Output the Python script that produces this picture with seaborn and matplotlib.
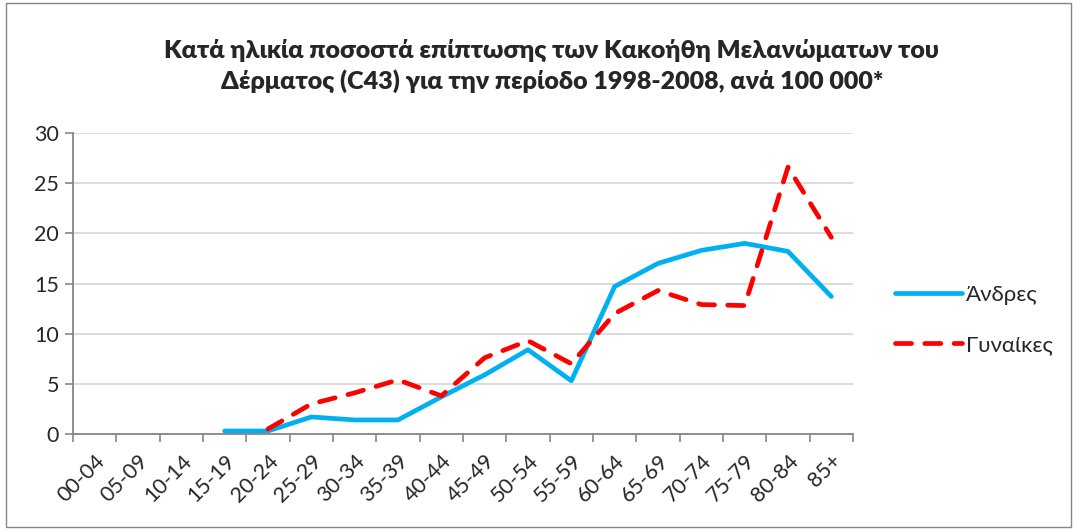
import numpy as np
import pandas as pd
import matplotlib
matplotlib.use("Agg")
import matplotlib.pyplot as plt
import seaborn as sns
from matplotlib.patches import Rectangle
from matplotlib.lines import Line2D

categories = ["00-04", "05-09", "10-14", "15-19", "20-24", "25-29", "30-34", "35-39",
              "40-44", "45-49", "50-54", "55-59", "60-64", "65-69", "70-74", "75-79",
              "80-84", "85+"]
men = [np.nan, np.nan, np.nan, 0.3, 0.3, 1.7, 1.4, 1.4, 3.7, 5.9, 8.4, 5.3,
       14.7, 17.0, 18.3, 19.0, 18.2, 13.7]
women = [np.nan, np.nan, np.nan, np.nan, 0.5, 3.0, 4.1, 5.4, 3.8, 7.6, 9.3, 7.0,
         12.0, 14.3, 12.9, 12.8, 26.6, 19.6]
series_names = ["Άνδρες", "Γυναίκες"]
title = ("Κατά ηλικία ποσοστά επίπτωσης των Κακοήθη Μελανώματων του\n"
         "Δέρματος (C43) για την περίοδο 1998-2008, ανά 100 000*")

sns.set_theme(style="white")
plt.rcParams['font.family'] = ['Lato', 'DejaVu Sans']

pos = np.arange(len(categories))
df = pd.DataFrame({
    "pos": np.concatenate([pos, pos]),
    "value": men + women,
    "series": [series_names[0]] * len(categories) + [series_names[1]] * len(categories),
}).dropna()

fig = plt.figure(figsize=(10.77, 5.29), dpi=100)
ax = fig.add_axes([73 / 1077, 1 - 434 / 529, (853 - 73) / 1077, (434 - 133) / 529])

palette = {series_names[0]: "#00B0F0", series_names[1]: "#FF0000"}
dash = (3.4, 2.8)
sns.lineplot(data=df, x="pos", y="value", hue="series", style="series",
             palette=palette, dashes={series_names[0]: "", series_names[1]: dash},
             linewidth=3.4, ax=ax, legend=False, sort=True)
for ln in ax.lines:
    ln.set_dash_capstyle("round")
    ln.set_solid_capstyle("round")

ax.set_xlim(-0.5, len(categories) - 0.5)
ax.set_ylim(0, 30)
ax.set_yticks(np.arange(0, 31, 5))
ax.set_xticks(pos)
ax.set_xticklabels(categories, rotation=45, ha="right", rotation_mode="anchor", fontsize=15.5)
ax.set_xticks(np.arange(-0.5, len(categories), 1), minor=True)
ax.tick_params(axis="x", which="major", length=0, pad=12)
ax.tick_params(axis="x", which="minor", length=6, width=1.2, color="#868686", direction="out")
ax.tick_params(axis="y", which="major", length=6, width=1.2, color="#868686", direction="out",
               labelsize=15.5, pad=4)
ax.xaxis.set_tick_params(bottom=True, which="both")
ax.yaxis.set_tick_params(left=True)
ax.grid(axis="y", color="#d9d9d9", linewidth=1.3)
ax.set_axisbelow(True)
for s in ["top", "right"]:
    ax.spines[s].set_visible(False)
for s in ["left", "bottom"]:
    ax.spines[s].set_color("#868686")
    ax.spines[s].set_linewidth(1.3)
ax.set_xlabel("")
ax.set_ylabel("")

handles = [Line2D([], [], color="#00B0F0", lw=3.4, solid_capstyle="round"),
           Line2D([], [], color="#FF0000", lw=3.4, dashes=dash, dash_capstyle="round")]
fig.legend(handles, series_names, loc="center left", bbox_to_anchor=(875 / 1077, 1 - 320 / 529),
           frameon=False, fontsize=16, handlelength=3.0, handletextpad=0.2, labelspacing=1.35)

fig.text(552 / 1077, 1 - 66 / 529, title, ha="center", va="center", fontsize=18,
         fontweight="heavy", linespacing=1.35)

fig.patches.append(Rectangle((0.006, 0.004), 0.988, 0.99, transform=fig.transFigure,
                             fill=False, edgecolor="#868686", linewidth=1.0))

fig.savefig("out.png", dpi=100)
